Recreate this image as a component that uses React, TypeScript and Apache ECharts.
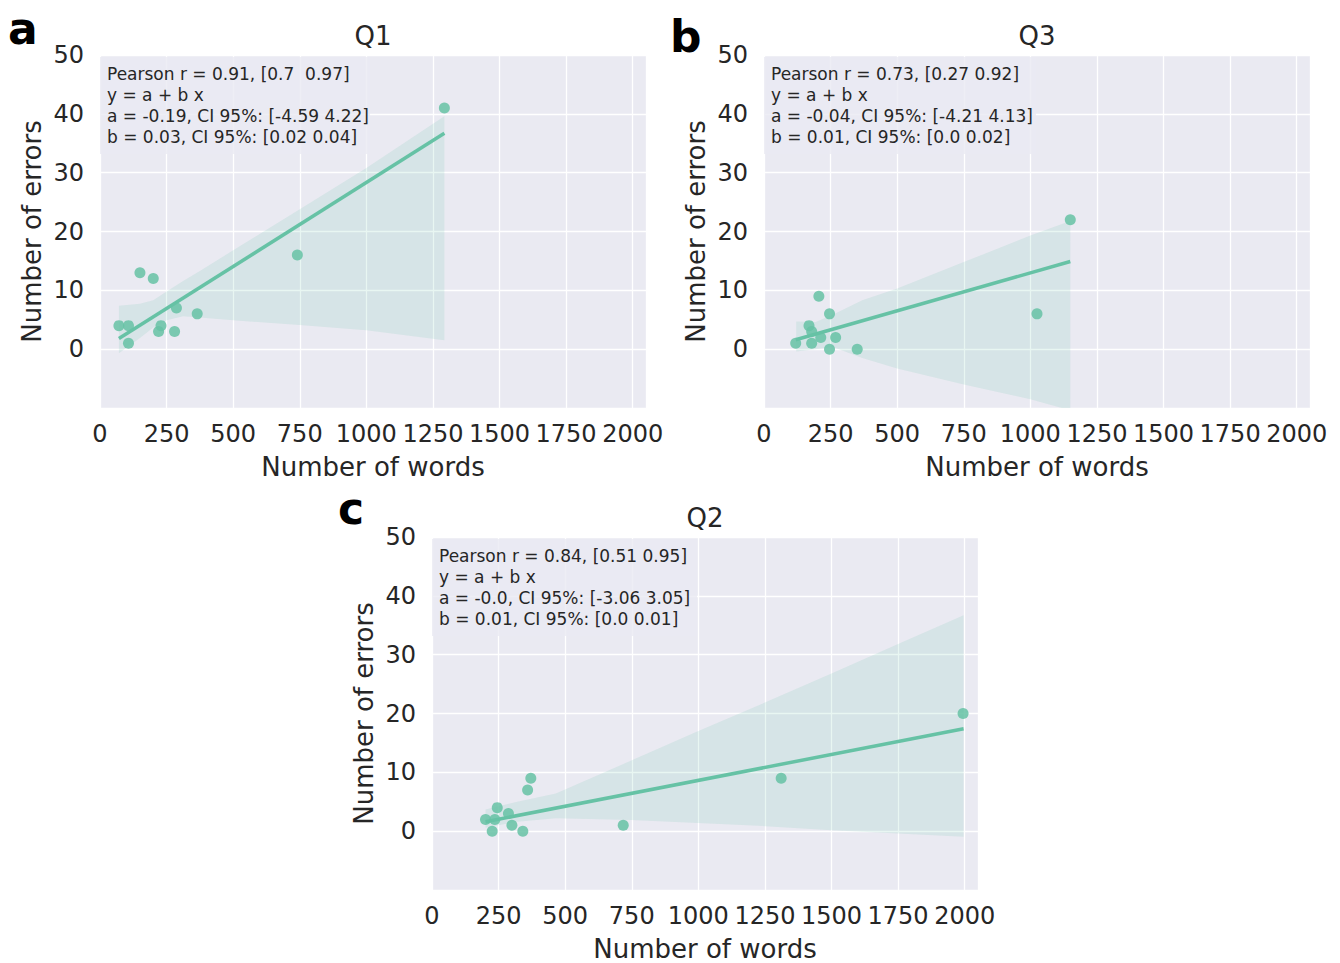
import React, { useEffect, useRef } from "react";
import * as echarts from "echarts";

// ---------- data ----------
const X_MIN = 0;
const X_MAX = 2050;
const X_STEP = 250;
const Y_MIN = -10;
const Y_MAX = 50;
const Y_STEP = 10;

// Q1 (panel a)
const q1Words = [71, 107, 107, 150, 200, 220, 229, 280, 287, 365, 741, 1293];
const q1Errors = [4, 4, 1, 13, 12, 3, 4, 3, 7, 6, 16, 41];
const q1FitX = [71, 1293];
const q1FitY = [1.8, 36.7];
const q1BandX = [71, 150, 200, 250, 312, 375, 500, 750, 1000, 1293];
const q1BandLow = [-0.7, 1.9, 3.7, 4.9, 5.6, 5.4, 4.9, 4.1, 3.2, 1.5];
const q1BandHigh = [7.4, 7.7, 8.3, 9.8, 11.6, 13.3, 16.8, 23.8, 30.8, 39.6];
const q1Stats = [
  "Pearson r = 0.91, [0.7  0.97]",
  "y = a + b x",
  "a = -0.19, CI 95%: [-4.59 4.22]",
  "b = 0.03, CI 95%: [0.02 0.04]",
];

// Q3 (panel b)
const q3Words = [119, 169, 179, 179, 206, 213, 246, 246, 269, 350, 1025, 1150];
const q3Errors = [1, 4, 3, 1, 9, 2, 6, 0, 2, 0, 6, 22];
const q3FitX = [119, 1150];
const q3FitY = [1.6, 14.9];
const q3BandX = [121, 194, 256, 369, 500, 750, 1000, 1150];
const q3BandLow = [-0.4, 0.0, 0.4, -1.5, -3.3, -6.0, -8.5, -10.4];
const q3BandHigh = [4.7, 4.6, 5.8, 8.3, 10.3, 14.8, 19.3, 21.8];
const q3Stats = [
  "Pearson r = 0.73, [0.27 0.92]",
  "y = a + b x",
  "a = -0.04, CI 95%: [-4.21 4.13]",
  "b = 0.01, CI 95%: [0.0 0.02]",
];

// Q2 (panel c)
const q2Words = [201, 236, 226, 245, 287, 300, 341, 359, 371, 718, 1311, 1994];
const q2Errors = [2, 2, 0, 4, 3, 1, 0, 7, 9, 1, 9, 20];
const q2FitX = [201, 1996];
const q2FitY = [1.6, 17.4];
const q2BandX = [201, 320, 465, 748, 998, 1252, 1500, 1750, 1996];
const q2BandLow = [0.6, 1.6, 2.2, 1.9, 1.4, 0.85, 0.17, -0.4, -0.96];
const q2BandHigh = [3.7, 5.0, 6.4, 12.0, 17.0, 21.9, 26.8, 31.8, 36.7];
const q2Stats = [
  "Pearson r = 0.84, [0.51 0.95]",
  "y = a + b x",
  "a = -0.0, CI 95%: [-3.06 3.05]",
  "b = 0.01, CI 95%: [0.0 0.01]",
];

const X_NAME = "Number of words";
const Y_NAME = "Number of errors";

// ---------- layout / style ----------
const FONT = "DejaVu Sans";
const TEXT = "#262626";
const GREEN = "#66c2a5";
const BG = "#EAEAF2";
const GW = 546;
const GH = 353;

const panels = [
  {
    title: "Q1", letter: "a", left: 100, top: 55, boxW: 270, letterX: 8, letterY: 28,
    words: q1Words, errors: q1Errors, fitX: q1FitX, fitY: q1FitY,
    bandX: q1BandX, bandLow: q1BandLow, bandHigh: q1BandHigh, stats: q1Stats,
  },
  {
    title: "Q3", letter: "b", left: 764, top: 55, boxW: 272, letterX: 670, letterY: 36,
    words: q3Words, errors: q3Errors, fitX: q3FitX, fitY: q3FitY,
    bandX: q3BandX, bandLow: q3BandLow, bandHigh: q3BandHigh, stats: q3Stats,
  },
  {
    title: "Q2", letter: "c", left: 432, top: 537, boxW: 265, letterX: 338, letterY: 508,
    words: q2Words, errors: q2Errors, fitX: q2FitX, fitY: q2FitY,
    bandX: q2BandX, bandLow: q2BandLow, bandHigh: q2BandHigh, stats: q2Stats,
  },
];

function buildOption() {
  const grid: any[] = [];
  const xAxis: any[] = [];
  const yAxis: any[] = [];
  const series: any[] = [];
  const elements: any[] = [];

  panels.forEach((p, i) => {
    grid.push({
      left: p.left, top: p.top, width: GW, height: GH,
      show: true, backgroundColor: BG, borderWidth: 0, containLabel: false,
    });
    xAxis.push({
      type: "value", gridIndex: i, min: X_MIN, max: X_MAX, interval: X_STEP,
      axisLine: { show: false }, axisTick: { show: false },
      splitLine: { show: true, lineStyle: { color: "#ffffff", width: 1.3 } },
      axisLabel: {
        fontFamily: FONT, fontSize: 24, color: TEXT, margin: 14,
        showMaxLabel: false,
        formatter: (v: number) => String(v),
      },
      name: X_NAME, nameLocation: "middle", nameGap: 46,
      nameTextStyle: { fontFamily: FONT, fontSize: 26, color: TEXT },
    });
    yAxis.push({
      type: "value", gridIndex: i, min: Y_MIN, max: Y_MAX, interval: Y_STEP,
      axisLine: { show: false }, axisTick: { show: false },
      splitLine: { show: true, lineStyle: { color: "#ffffff", width: 1.3 } },
      axisLabel: {
        fontFamily: FONT, fontSize: 24, color: TEXT, margin: 16,
        showMinLabel: false,
        formatter: (v: number) => String(v),
      },
      name: Y_NAME, nameLocation: "middle", nameGap: 55,
      nameTextStyle: { fontFamily: FONT, fontSize: 26, color: TEXT },
    });

    // confidence band
    const bx = p.bandX, lo = p.bandLow, hi = p.bandHigh;
    series.push({
      type: "custom", xAxisIndex: i, yAxisIndex: i, clip: true, z: 2,
      silent: true,
      data: [[bx[0], lo[0]]],
      renderItem: (_params: any, api: any) => {
        const pts: number[][] = [];
        for (let k = 0; k < bx.length; k++) pts.push(api.coord([bx[k], lo[k]]));
        for (let k = bx.length - 1; k >= 0; k--) pts.push(api.coord([bx[k], hi[k]]));
        return {
          type: "polygon",
          shape: { points: pts },
          style: { fill: GREEN, opacity: 0.15 },
        };
      },
    });
    // regression line
    series.push({
      type: "line", xAxisIndex: i, yAxisIndex: i, z: 3,
      data: p.fitX.map((x, k) => [x, p.fitY[k]]),
      showSymbol: false, symbol: "none",
      lineStyle: { color: GREEN, width: 3.5 },
    });
    // points
    series.push({
      type: "scatter", xAxisIndex: i, yAxisIndex: i, z: 4,
      data: p.words.map((x, k) => [x, p.errors[k]]),
      symbolSize: 11,
      itemStyle: { color: GREEN, opacity: 0.85 },
    });

    // stats box
    elements.push({
      type: "rect", z: 1, silent: true,
      shape: { x: p.left, y: p.top + 2, width: p.boxW, height: 97 },
      style: { fill: "rgba(234,234,242,0.8)" },
    });
    elements.push({
      type: "text", z: 5, silent: true,
      x: p.left + 7, y: p.top + 9,
      style: {
        text: p.stats.join("\n"),
        fontFamily: FONT, fontSize: 17, lineHeight: 20.8, fill: TEXT,
        textAlign: "left", align: "left",
        textVerticalAlign: "top", verticalAlign: "top",
      },
    });
    // title
    elements.push({
      type: "text", z: 5, silent: true,
      x: p.left + GW / 2, y: p.top - 19,
      style: {
        text: p.title, fontFamily: FONT, fontSize: 26, fill: TEXT,
        textAlign: "center", align: "center",
        textVerticalAlign: "middle", verticalAlign: "middle",
      },
    });
    // panel letter
    elements.push({
      type: "text", z: 5, silent: true,
      x: p.letterX, y: p.letterY,
      style: {
        text: p.letter, fontFamily: FONT, fontSize: 44, fontWeight: "bold", fill: "#000000",
        textAlign: "left", align: "left",
        textVerticalAlign: "middle", verticalAlign: "middle",
      },
    });
  });

  return {
    animation: false,
    backgroundColor: "#ffffff",
    grid, xAxis, yAxis, series,
    graphic: { elements },
  };
}

export default function App() {
  const ref = useRef<HTMLDivElement>(null);
  useEffect(() => {
    document.body.style.margin = "0";
    if (!ref.current) return;
    const chart = echarts.init(ref.current, undefined, { renderer: "svg" });
    chart.setOption(buildOption() as any);
    return () => chart.dispose();
  }, []);
  return <div ref={ref} style={{ width: 1340, height: 963 }} />;
}
